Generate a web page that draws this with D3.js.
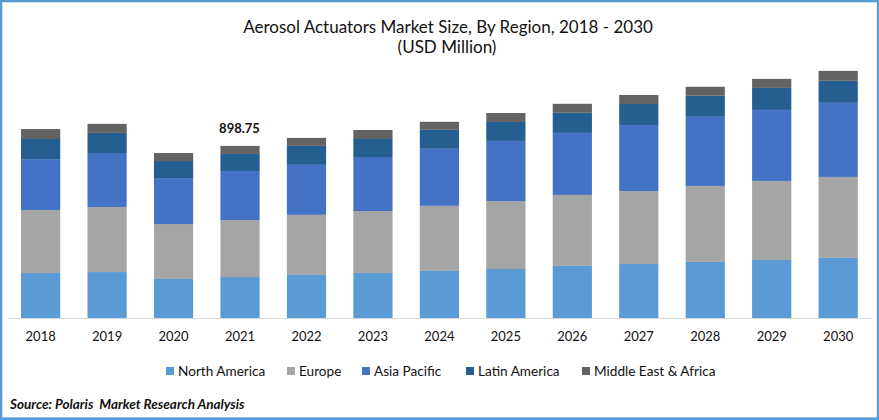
<!DOCTYPE html>
<html>
<head>
<meta charset="utf-8">
<script src="https://cdnjs.cloudflare.com/ajax/libs/d3/7.8.5/d3.min.js"></script>
<style>
  html, body { margin: 0; padding: 0; background: #fff; }
  svg { display: block; font-family: Lato, sans-serif; }
</style>
</head>
<body>
<script>
var years = ['2018', '2019', '2020', '2021', '2022', '2023', '2024', '2025', '2026', '2027', '2028', '2029', '2030']
var regions = ['North America', 'Europe', 'Asia Pacific', 'Latin America', 'Middle East & Africa']
var colors = ['#5b9bd5', '#a5a5a5', '#4472c4', '#255e91', '#636363']

var north_america = [235, 240, 204, 214, 225, 235, 246, 256, 272, 282, 293, 303, 314]
var europe = [329, 340, 287, 298, 314, 324, 340, 355, 371, 381, 397, 413, 423]
var asia_pacific = [266, 282, 240, 256, 261, 282, 298, 314, 324, 345, 361, 371, 387]
var latin_america = [105, 105, 89, 89, 99, 94, 99, 99, 105, 110, 110, 115, 115]
var middle_east = [52, 47, 42, 42, 42, 47, 42, 47, 47, 47, 47, 47, 52]
var series_values = [north_america, europe, asia_pacific, latin_america, middle_east]

var callout_year = '2021'
var callout_text = '898.75'

var w = 879
var h = 420
var svg = d3.select('body').append('svg').attr('width', w).attr('height', h)

// blue frame round the whole picture, with a pale inner edge
svg.append('rect').attr('width', w).attr('height', h).attr('fill', '#5b9bd5')
svg.append('rect').attr('x', 2).attr('y', 2).attr('width', 875).attr('height', 415.5).attr('fill', '#c9dff2')
svg.append('rect').attr('x', 3).attr('y', 3).attr('width', 873.5).attr('height', 414).attr('fill', '#fff')

// title
svg.append('text').attr('x', 448).attr('y', 33).attr('text-anchor', 'middle')
  .style('font-size', '17px').attr('fill', '#111').text('Aerosol Actuators Market Size, By Region, 2018 - 2030')
svg.append('text').attr('x', 447).attr('y', 53).attr('text-anchor', 'middle')
  .style('font-size', '17px').attr('fill', '#111').text('(USD Million)')

var x = d3.scaleBand().domain(years).range([7.4, 871.4]).paddingInner(0.41).paddingOuter(0.205)
var y = d3.scaleLinear().domain([0, 1400]).range([318, 50])

// stack the regions
var rows = years.map(function (yr, i) {
  var row = { year: yr }
  regions.forEach(function (r, j) { row[r] = series_values[j][i] })
  return row
})
var stacked = d3.stack().keys(regions)(rows)

svg.selectAll('g.series').data(stacked).enter().append('g')
  .attr('class', 'series')
  .attr('fill', function (d, i) { return colors[i] })
  .selectAll('rect').data(function (d) { return d }).enter().append('rect')
  .attr('x', function (d) { return x(d.data.year) })
  .attr('width', x.bandwidth())
  .attr('y', function (d) { return y(d[1]) })
  .attr('height', function (d) { return y(d[0]) - y(d[1]) })

// x axis
var axis = svg.append('g').attr('transform', 'translate(0,318)')
  .call(d3.axisBottom(x).tickSize(0).tickPadding(14))
axis.select('.domain').attr('stroke', '#d9d9d9').attr('stroke-width', 1)
axis.selectAll('text').style('font-size', '13px').style('font-family', 'Lato, sans-serif').attr('fill', '#111')

// callout over 2021
var callout_total = d3.sum(series_values, function (s) { return s[years.indexOf(callout_year)] })
svg.append('text')
  .attr('x', x(callout_year) + x.bandwidth() / 2 - 0.5)
  .attr('y', y(callout_total) - 13)
  .attr('text-anchor', 'middle')
  .style('font-size', '13px').style('font-weight', 700).attr('fill', '#111')
  .text(callout_text)

// legend
var legend_x = [166, 287, 362, 466, 582]
var legend = svg.selectAll('g.legend').data(regions).enter().append('g')
  .attr('class', 'legend')
  .attr('transform', function (d, i) { return 'translate(' + legend_x[i] + ',371)' })
legend.append('rect').attr('y', -4).attr('width', 8).attr('height', 8)
  .attr('fill', function (d, i) { return colors[i] })
legend.append('text').attr('x', 12).attr('y', 5)
  .style('font-size', '13.6px').attr('fill', '#111').text(function (d) { return d })

// source line, the double space is in the original
svg.append('text').attr('x', 10).attr('y', 409)
  .style('white-space', 'pre')
  .style('font-size', '13.5px').style('font-weight', 700).style('font-style', 'italic').attr('fill', '#111')
  .text('Source: Polaris  Market Research Analysis')
</script>
</body>
</html>
